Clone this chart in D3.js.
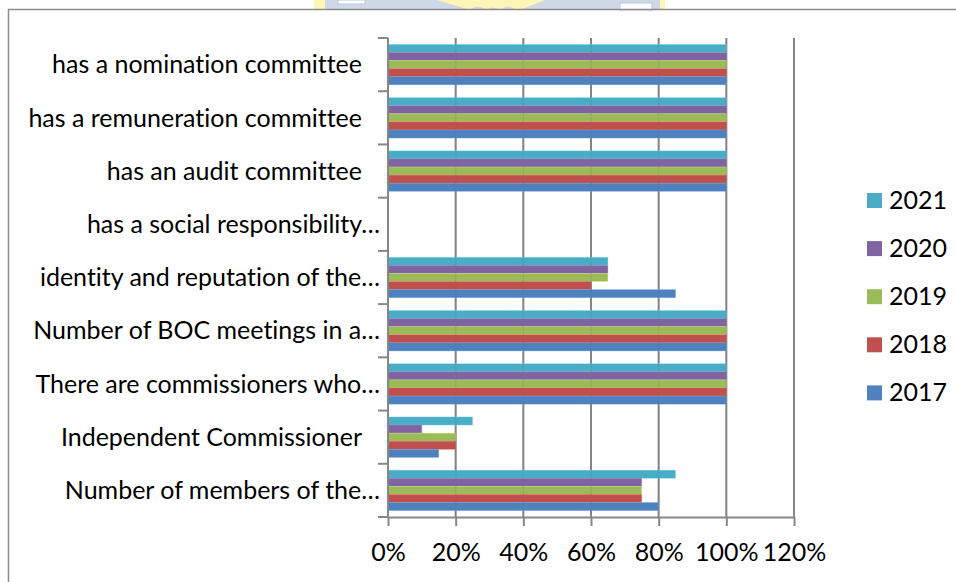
<!DOCTYPE html>
<html><head><meta charset="utf-8">
<script src="https://cdn.jsdelivr.net/npm/d3@7"></script>
<style>body{margin:0;background:#fff} svg{display:block} text{font-variant-ligatures:none;font-feature-settings:"liga" 0,"clig" 0}</style>
</head><body><svg id="c" width="956" height="582"></svg>
<script>
const categories = ["has a nomination committee", "has a remuneration committee", "has an audit committee", "has a social responsibility…", "identity and reputation of the…", "Number of BOC meetings in a…", "There are commissioners who…", "Independent Commissioner", "Number of members of the…"];
const seriesNames = ["2021", "2020", "2019", "2018", "2017"];
const v2021 = [1, 1, 1, 0, 0.65, 1, 1, 0.25, 0.85];
const v2020 = [1, 1, 1, 0, 0.65, 1, 1, 0.10, 0.75];
const v2019 = [1, 1, 1, 0, 0.65, 1, 1, 0.20, 0.75];
const v2018 = [1, 1, 1, 0, 0.60, 1, 1, 0.20, 0.75];
const v2017 = [1, 1, 1, 0, 0.85, 1, 1, 0.15, 0.80];
const xTicks = [0, 0.2, 0.4, 0.6, 0.8, 1.0, 1.2];
const colors = ["#4bacc6", "#8064a2", "#9bbb59", "#c0504d", "#4f81bd"];

const seriesValues = [v2021, v2020, v2019, v2018, v2017];
const svg = d3.select("#c");
const FONT = "Lato, 'Open Sans', sans-serif";

// watermark fragment at top
const wm = svg.append("g");
wm.append("rect").attr("x", 314).attr("y", 0).attr("width", 351).attr("height", 10).attr("fill", "#fdf6b6");
wm.append("path").attr("d", "M325,0 L437,0 L470,10 L325,10 Z").attr("fill", "#cfd8e6");
wm.append("path").attr("d", "M545,0 L660,0 L660,10 L520,10 Z").attr("fill", "#cfd8e6");
wm.append("path").attr("d", "M470,10 Q478,3 486,10 Q493,5 500,10 Q508,3 516,10 Z").attr("fill", "#cfd8e6");
wm.append("rect").attr("x", 338).attr("y", 0).attr("width", 27).attr("height", 4).attr("fill", "#fff").attr("stroke", "#b9c6dc");
wm.append("rect").attr("x", 620).attr("y", 3).attr("width", 32).attr("height", 7).attr("fill", "#fff").attr("stroke", "#b9c6dc");

// outer frame
svg.append("rect").attr("x", 8.5).attr("y", 9.5).attr("width", 960).attr("height", 600)
  .attr("fill", "none").attr("stroke", "#8c8c8c").attr("stroke-width", 1.5);

const L = 388, R = 794, T = 38, B = 517;
const x = d3.scaleLinear().domain([0, 1.2]).range([L, R]);
const y0 = d3.scaleBand().domain(categories).range([T, B]).paddingInner(0.24).paddingOuter(0.12);
const y1 = d3.scaleBand().domain(seriesNames).range([0, y0.bandwidth()]);

// font size calibration to match Calibri 24px widths
const probe = svg.append("text").attr("font-family", FONT).attr("font-size", 24).text("has a nomination committee");
const w = probe.node().getComputedTextLength();
probe.remove();
const fs = 24 * 310 / w;

// gridlines
const grid = svg.append("g");
grid.selectAll("line").data(xTicks.slice(1)).join("line")
  .attr("x1", d => x(d)).attr("x2", d => x(d)).attr("y1", T).attr("y2", B)
  .attr("stroke", "#878787").attr("stroke-width", 2);

// bars
const gBars = svg.append("g");
seriesNames.forEach((s, si) => {
  gBars.append("g").selectAll("rect").data(categories.map((c, i) => ({c, v: seriesValues[si][i]}))).join("rect")
    .attr("x", x(0)).attr("y", d => y0(d.c) + y1(s))
    .attr("width", d => x(d.v) - x(0)).attr("height", y1.bandwidth())
    .attr("fill", colors[si])
    .attr("stroke", d3.color(colors[si]).brighter(0.8)).attr("stroke-width", 0.6).attr("stroke-opacity", 0.6);
});
// faint gridlines showing through
svg.append("g").selectAll("line").data(xTicks.slice(1)).join("line")
  .attr("x1", d => x(d)).attr("x2", d => x(d)).attr("y1", T).attr("y2", B)
  .attr("stroke", "#777").attr("stroke-width", 1.5).attr("stroke-opacity", 0.18);

// bottom axis
const xAxis = d3.axisBottom(x).tickValues(xTicks).tickFormat(d3.format(".0%")).tickSize(9).tickSizeOuter(0);
const gx = svg.append("g").attr("transform", `translate(0,${B})`).call(xAxis);
gx.select(".domain").attr("stroke", "#878787").attr("stroke-width", 2);
gx.selectAll(".tick line").attr("stroke", "#878787").attr("stroke-width", 2);
gx.selectAll(".tick text").attr("font-family", FONT).attr("font-size", fs).attr("fill", "#000").attr("dy", 0).attr("y", 44);

// left axis line and boundary ticks
const boundaries = categories.map(c => y0(c) - y0.step() * y0.paddingInner() / 2).concat([B]);
svg.append("line").attr("x1", L).attr("x2", L).attr("y1", T).attr("y2", B).attr("stroke", "#878787").attr("stroke-width", 2);
svg.append("g").selectAll("line").data(boundaries).join("line")
  .attr("x1", L - 10).attr("x2", L).attr("y1", d => d).attr("y2", d => d)
  .attr("stroke", "#878787").attr("stroke-width", 2);

// category labels
svg.append("g").selectAll("text").data(categories).join("text")
  .attr("x", d => d.endsWith("…") ? 380 : 362)
  .attr("y", d => y0(d) + y0.bandwidth() / 2)
  .attr("dy", "0.35em").attr("text-anchor", "end")
  .attr("font-family", FONT).attr("font-size", fs).attr("fill", "#000")
  .text(d => d);

// legend
const lg = svg.append("g").attr("transform", "translate(867,193)");
const items = lg.selectAll("g").data(seriesNames).join("g").attr("transform", (d, i) => `translate(0,${i * 48.1})`);
items.append("rect").attr("width", 15).attr("height", 15).attr("fill", (d, i) => colors[i]);
items.append("text").attr("x", 22).attr("y", 15.5).attr("font-family", FONT).attr("font-size", fs).attr("fill", "#000").text(d => d);
</script></body></html>
